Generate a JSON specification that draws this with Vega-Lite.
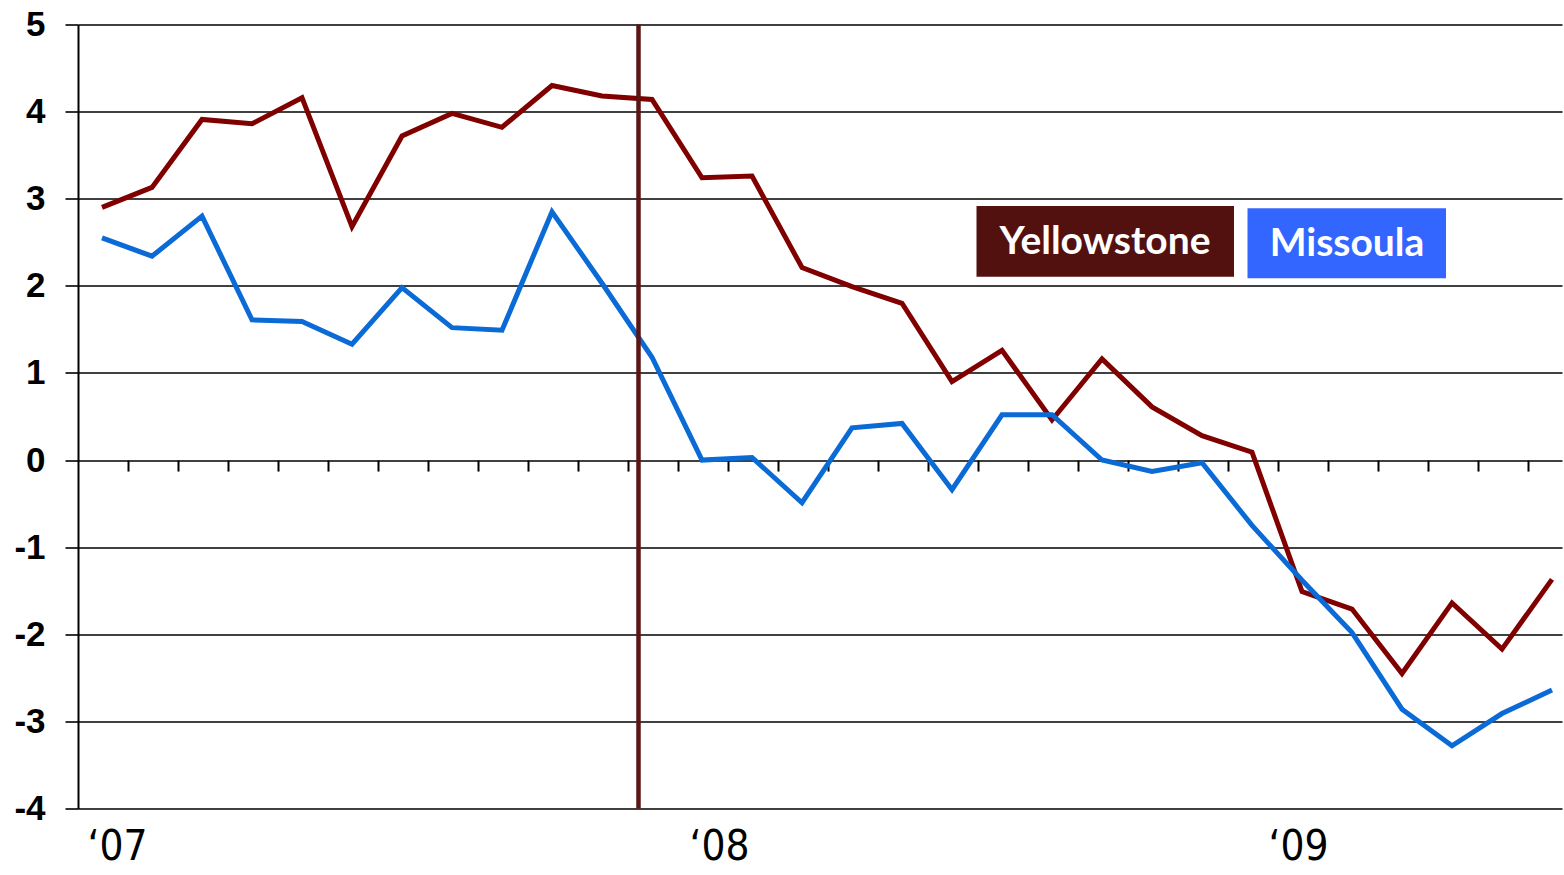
{
  "$schema": "https://vega.github.io/schema/vega-lite/v6.json",
  "width": 1484,
  "height": 784,
  "autosize": "none",
  "padding": {"left": 78, "top": 24.5, "right": 2, "bottom": 66.5},
  "background": "white",
  "config": {
    "view": {"stroke": null},
    "axisY": {
      "title": null,
      "grid": true, "gridColor": "black", "gridWidth": 1.6, "gridOpacity": 1,
      "domain": true, "domainColor": "black", "domainWidth": 2,
      "ticks": true, "tickSize": 13, "tickColor": "black", "tickWidth": 1.6,
      "labelFont": "Liberation Sans", "labelFontWeight": "bold", "labelFontSize": 35,
      "labelColor": "black", "labelPadding": 20, "labelBaseline": "middle"
    }
  },
  "datasets": {
    "series": [
      {"i": 0, "series": "Yellowstone", "value": 2.90},
      {"i": 1, "series": "Yellowstone", "value": 3.13},
      {"i": 2, "series": "Yellowstone", "value": 3.91},
      {"i": 3, "series": "Yellowstone", "value": 3.86},
      {"i": 4, "series": "Yellowstone", "value": 4.16},
      {"i": 5, "series": "Yellowstone", "value": 2.68},
      {"i": 6, "series": "Yellowstone", "value": 3.72},
      {"i": 7, "series": "Yellowstone", "value": 3.98},
      {"i": 8, "series": "Yellowstone", "value": 3.82},
      {"i": 9, "series": "Yellowstone", "value": 4.30},
      {"i": 10, "series": "Yellowstone", "value": 4.18},
      {"i": 11, "series": "Yellowstone", "value": 4.14},
      {"i": 12, "series": "Yellowstone", "value": 3.24},
      {"i": 13, "series": "Yellowstone", "value": 3.26},
      {"i": 14, "series": "Yellowstone", "value": 2.21},
      {"i": 15, "series": "Yellowstone", "value": 1.99},
      {"i": 16, "series": "Yellowstone", "value": 1.80},
      {"i": 17, "series": "Yellowstone", "value": 0.90},
      {"i": 18, "series": "Yellowstone", "value": 1.26},
      {"i": 19, "series": "Yellowstone", "value": 0.46},
      {"i": 20, "series": "Yellowstone", "value": 1.16},
      {"i": 21, "series": "Yellowstone", "value": 0.61},
      {"i": 22, "series": "Yellowstone", "value": 0.28},
      {"i": 23, "series": "Yellowstone", "value": 0.09},
      {"i": 24, "series": "Yellowstone", "value": -1.51},
      {"i": 25, "series": "Yellowstone", "value": -1.71},
      {"i": 26, "series": "Yellowstone", "value": -2.45},
      {"i": 27, "series": "Yellowstone", "value": -1.64},
      {"i": 28, "series": "Yellowstone", "value": -2.17},
      {"i": 29, "series": "Yellowstone", "value": -1.37},
      {"i": 0, "series": "Missoula", "value": 2.55},
      {"i": 1, "series": "Missoula", "value": 2.34},
      {"i": 2, "series": "Missoula", "value": 2.80},
      {"i": 3, "series": "Missoula", "value": 1.61},
      {"i": 4, "series": "Missoula", "value": 1.59},
      {"i": 5, "series": "Missoula", "value": 1.33},
      {"i": 6, "series": "Missoula", "value": 1.98},
      {"i": 7, "series": "Missoula", "value": 1.52},
      {"i": 8, "series": "Missoula", "value": 1.49},
      {"i": 9, "series": "Missoula", "value": 2.85},
      {"i": 10, "series": "Missoula", "value": 2.03},
      {"i": 11, "series": "Missoula", "value": 1.18},
      {"i": 12, "series": "Missoula", "value": 0.00},
      {"i": 13, "series": "Missoula", "value": 0.03},
      {"i": 14, "series": "Missoula", "value": -0.49},
      {"i": 15, "series": "Missoula", "value": 0.37},
      {"i": 16, "series": "Missoula", "value": 0.42},
      {"i": 17, "series": "Missoula", "value": -0.34},
      {"i": 18, "series": "Missoula", "value": 0.52},
      {"i": 19, "series": "Missoula", "value": 0.52},
      {"i": 20, "series": "Missoula", "value": 0.00},
      {"i": 21, "series": "Missoula", "value": -0.13},
      {"i": 22, "series": "Missoula", "value": -0.03},
      {"i": 23, "series": "Missoula", "value": -0.75},
      {"i": 24, "series": "Missoula", "value": -1.38},
      {"i": 25, "series": "Missoula", "value": -1.98},
      {"i": 26, "series": "Missoula", "value": -2.86},
      {"i": 27, "series": "Missoula", "value": -3.28},
      {"i": 28, "series": "Missoula", "value": -2.91},
      {"i": 29, "series": "Missoula", "value": -2.64}
    ],
    "marker": [{"i": 10.73}],
    "legend": [
      {"label": "Yellowstone", "x1": 17.49, "x2": 22.64, "y1": 2.104, "y2": 2.916, "xc": 20.06, "yb": 2.36, "fill": "#52110f"},
      {"label": "Missoula", "x1": 22.91, "x2": 26.88, "y1": 2.086, "y2": 2.89, "xc": 24.9, "yb": 2.34, "fill": "#3366ff"}
    ]
  },
  "layer": [
    {
      "data": {"name": "series"},
      "mark": {"type": "line", "strokeWidth": 5, "strokeJoin": "miter"},
      "encoding": {
        "x": {
          "field": "i", "type": "quantitative",
          "scale": {"domain": [-0.48, 29.2], "nice": false, "zero": false},
          "axis": {
            "orient": "bottom", "offset": -348.44, "title": null,
            "values": [0.52,1.52,2.52,3.52,4.52,5.52,6.52,7.52,8.52,9.52,10.52,11.52,12.52,13.52,14.52,15.52,16.52,17.52,18.52,19.52,20.52,21.52,22.52,23.52,24.52,25.52,26.52,27.52,28.52],
            "labels": false, "grid": false, "domain": false,
            "ticks": true, "tickSize": 11, "tickColor": "black", "tickWidth": 2
          }
        },
        "y": {
          "field": "value", "type": "quantitative",
          "scale": {"domain": [-4, 5], "nice": false, "zero": false},
          "axis": {"title": null, "values": [-4,-3,-2,-1,0,1,2,3,4,5], "labelExpr": "toString(datum.value)", "labelFontSize": 35}
        },
        "color": {
          "field": "series", "type": "nominal",
          "scale": {"domain": ["Yellowstone", "Missoula"], "range": ["#800000", "#0a6ad6"]},
          "legend": null
        },
        "order": {"field": "i", "type": "quantitative"}
      }
    },
    {
      "data": {"name": "marker"},
      "mark": {"type": "rule", "color": "#5a1515", "strokeWidth": 4.5},
      "encoding": {
        "x": {
          "field": "i", "type": "quantitative",
          "axis": {
            "orient": "bottom", "title": null,
            "values": [0.30, 12.34, 23.92],
            "labelExpr": "datum.value < 5 ? '‘07' : (datum.value < 18 ? '‘08' : '‘09')",
            "grid": false, "domain": false, "ticks": false, "tickSize": 0,
            "labelFont": "Liberation Sans Narrow, DejaVu Sans Condensed, Roboto",
            "labelFontSize": 42, "labelColor": "black", "labelPadding": 18,
            "labelAlign": "center", "labelBaseline": "top"
          }
        }
      }
    },
    {
      "data": {"name": "legend"},
      "mark": {"type": "rect"},
      "encoding": {
        "x": {"field": "x1", "type": "quantitative", "axis": null},
        "x2": {"field": "x2"},
        "y": {"field": "y1", "type": "quantitative", "axis": {"title": null, "values": [-4,-3,-2,-1,0,1,2,3,4,5], "labelExpr": "toString(datum.value)", "labelFontSize": 35}},
        "y2": {"field": "y2"},
        "fill": {"field": "fill", "type": "nominal", "scale": null}
      }
    },
    {
      "data": {"name": "legend"},
      "mark": {"type": "text", "font": "Lato", "fontWeight": "bold", "fontSize": 39, "color": "white", "align": "center", "baseline": "alphabetic"},
      "encoding": {
        "x": {"field": "xc", "type": "quantitative", "axis": null},
        "y": {"field": "yb", "type": "quantitative", "axis": {"title": null, "values": [-4,-3,-2,-1,0,1,2,3,4,5], "labelExpr": "toString(datum.value)", "labelFontSize": 35}},
        "text": {"field": "label"}
      }
    }
  ],
  "resolve": {"axis": {"x": "independent"}}
}
